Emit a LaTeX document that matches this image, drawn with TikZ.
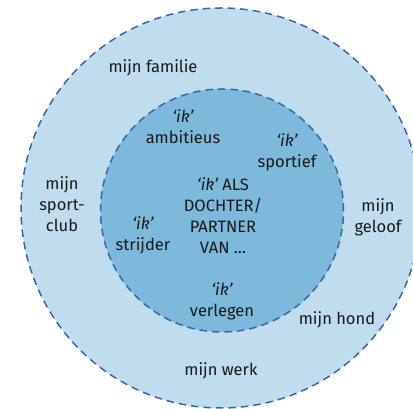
\documentclass[tikz,border=0pt]{standalone}
\usepackage{fontspec}
\setmainfont{Fira Sans}
\definecolor{ringblue}{HTML}{C0DDEE}
\definecolor{coreblue}{HTML}{7DB9DA}
\definecolor{dashblue}{HTML}{3B64AF}
\tikzset{
  zone/.style={draw=dashblue, line width=1.5pt, dash pattern=on 7.5pt off 5pt},
  lbl/.style={align=center, inner sep=0pt, text=black!90,
    font=\fontsize{16.5}{21}\selectfont},
}
\newcommand{\ikword}{{\itshape ‘ik’}}
\begin{document}
\begin{tikzpicture}[x=1pt,y=1pt]
  \useasboundingbox (0,0) rectangle (413,409);
  % OUTER: the surroundings
  \begin{scope}
    \fill[ringblue] (221,201) circle (200);
    \draw[zone] (221,201) circle (200);
    \node[lbl] (familie) at (153,341) {mijn familie};
    \node[lbl] (sportclub) at (62,205) {mijn\\sport-\\club};
    \node[lbl] (geloof) at (378,192) {mijn\\geloof};
    \node[lbl] (hond) at (337,89) {mijn hond};
    \node[lbl] (werk) at (221,38) {mijn werk};
  \end{scope}
  % INNER: the self
  \begin{scope}
    \fill[coreblue] (222,198.5) circle (121.5);
    \draw[zone] (222,198.5) circle (121.5);
    \node[lbl] (ambitieus) at (183,282.5) {\ikword\\ambitieus};
    \node[lbl] (sportief) at (287,256.5) {\ikword\\sportief};
    \node[lbl] (strijder) at (143,173.5) {\ikword\\strijder};
    \node[lbl] (core) at (223,193.5) {\ikword{} ALS\\DOCHTER/\\PARTNER\\VAN \dots};
    \node[lbl] (verlegen) at (222,108) {\ikword\\verlegen};
  \end{scope}
\end{tikzpicture}
\end{document}
